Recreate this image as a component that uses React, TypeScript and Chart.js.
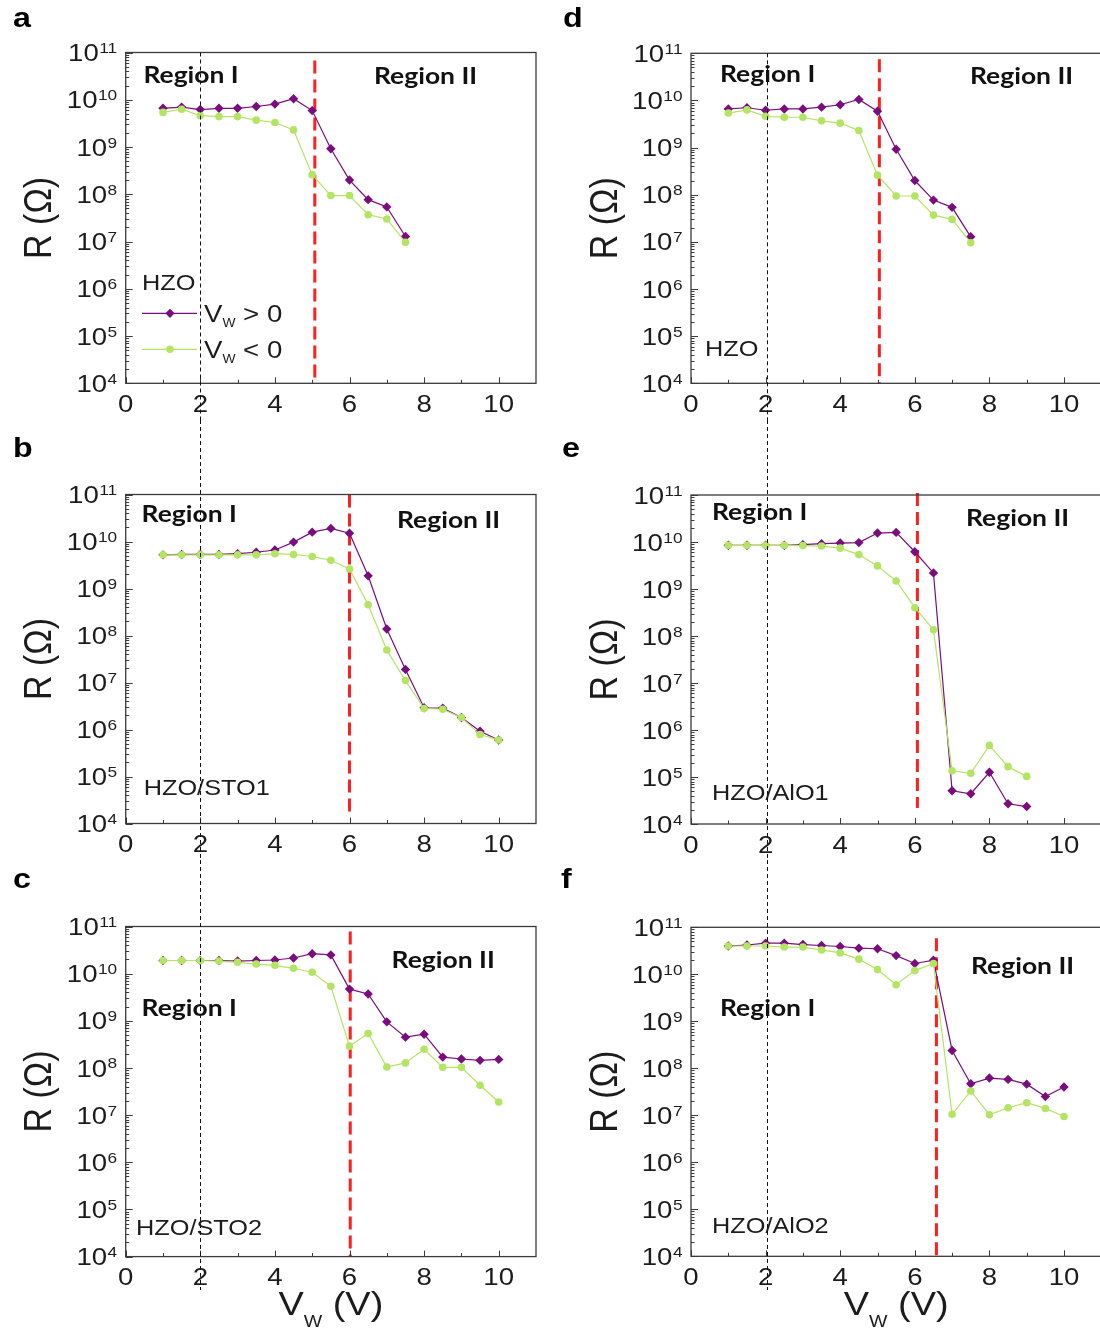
import React, { useEffect, useRef } from 'react';
import { Chart, registerables } from 'chart.js';

Chart.register(...registerables);

// ---------------- data ----------------
const vA = [1, 1.5, 2, 2.5, 3, 3.5, 4, 4.5, 5, 5.5, 6, 6.5, 7, 7.5];
const rHZOPos = [6.6e9, 7.0e9, 6.2e9, 6.6e9, 6.6e9, 7.2e9, 8.1e9, 1.05e10, 5.9e9, 9.2e8, 2.0e8, 7.7e7, 5.4e7, 1.28e7];
const rHZONeg = [5.4e9, 6.3e9, 4.6e9, 4.4e9, 4.4e9, 3.7e9, 3.3e9, 2.3e9, 2.6e8, 9.4e7, 9.4e7, 3.7e7, 3.0e7, 9.6e6];

const vB = [1, 1.5, 2, 2.5, 3, 3.5, 4, 4.5, 5, 5.5, 6, 6.5, 7, 7.5, 8, 8.5, 9, 9.5, 10];
const rSTO1Pos = [5.2e9, 5.3e9, 5.3e9, 5.3e9, 5.5e9, 5.9e9, 6.6e9, 9.7e9, 1.58e10, 1.9e10, 1.5e10, 1.86e9, 1.38e8, 1.9e7, 2.9e6, 2.85e6, 1.8e6, 9.2e5, 6.0e5];
const rSTO1Neg = [5.2e9, 5.2e9, 5.2e9, 5.2e9, 5.2e9, 5.2e9, 5.5e9, 5.3e9, 4.8e9, 4.0e9, 2.6e9, 4.5e8, 4.9e7, 1.1e7, 2.8e6, 2.7e6, 1.8e6, 7.8e5, 6.0e5];

const vE = [1, 1.5, 2, 2.5, 3, 3.5, 4, 4.5, 5, 5.5, 6, 6.5, 7, 7.5, 8, 8.5, 9];
const rAlO1Pos = [8.5e9, 8.5e9, 8.5e9, 8.5e9, 8.8e9, 9.2e9, 9.5e9, 9.7e9, 1.55e10, 1.6e10, 6.2e9, 2.2e9, 5.1e4, 4.4e4, 1.26e5, 2.7e4, 2.35e4];
const rAlO1Neg = [8.5e9, 8.5e9, 8.5e9, 8.5e9, 8.4e9, 8.2e9, 7.4e9, 5.4e9, 3.1e9, 1.48e9, 4.0e8, 1.36e8, 1.36e5, 1.2e5, 4.7e5, 1.66e5, 1.03e5];

const vC = [1, 1.5, 2, 2.5, 3, 3.5, 4, 4.5, 5, 5.5, 6, 6.5, 7, 7.5, 8, 8.5, 9, 9.5, 10];
const rSTO2Pos = [1.9e10, 1.9e10, 1.9e10, 1.9e10, 1.85e10, 1.9e10, 1.95e10, 2.15e10, 2.65e10, 2.5e10, 4.7e9, 3.7e9, 9.5e8, 4.5e8, 5.2e8, 1.7e8, 1.55e8, 1.45e8, 1.52e8];
const rSTO2Neg = [1.9e10, 1.9e10, 1.9e10, 1.85e10, 1.74e10, 1.6e10, 1.5e10, 1.3e10, 1.07e10, 5.4e9, 2.9e8, 5.4e8, 1.05e8, 1.28e8, 2.5e8, 1.03e8, 1.03e8, 4.3e7, 1.9e7];

const vF = [1, 1.5, 2, 2.5, 3, 3.5, 4, 4.5, 5, 5.5, 6, 6.5, 7, 7.5, 8, 8.5, 9, 9.5, 10];
const rAlO2Pos = [4.0e10, 4.2e10, 4.6e10, 4.6e10, 4.3e10, 4.1e10, 3.9e10, 3.6e10, 3.5e10, 2.5e10, 1.7e10, 2.0e10, 2.4e8, 4.7e7, 6.2e7, 5.8e7, 4.6e7, 2.5e7, 4.0e7];
const rAlO2Neg = [4.0e10, 4.0e10, 4.0e10, 3.8e10, 3.8e10, 3.3e10, 2.85e10, 2.1e10, 1.26e10, 6.0e9, 1.2e10, 1.7e10, 1.05e7, 3.3e7, 1.03e7, 1.45e7, 1.85e7, 1.4e7, 9.4e6];

const xMajorTicks = [0, 2, 4, 6, 8, 10];
const xMinorTicks = [1, 3, 5, 7, 9];
const yDecadeExps = [4, 5, 6, 7, 8, 9, 10, 11];
const yMinorMult = [2, 3, 4, 5, 6, 7, 8, 9];
const seriesLabels = ['V<sub>w</sub> > 0', 'V<sub>w</sub> < 0'];

// ---------------- styles ----------------
const PURPLE = '#7a0c7e';
const GREEN = '#b3e563';
const RED = '#ff1f1f';
const INK = '#1c1c1c';
const AXIS = '#3a3a3a';
const SX = 1.15;
const ARIAL = '"Liberation Sans", Arial, sans-serif';
const TICK_FONT = `24px ${ARIAL}`;
const EXP_FONT = `15px ${ARIAL}`;
const SAMPLE_FONT = `22px ${ARIAL}`;
const REGION_FONT = 'bold 23px Lato, "Open Sans", sans-serif';
const LETTER_FONT = `bold 28px ${ARIAL}`;

const COLS = [
  { left: 0, width: 550, axisL: 125.7, axisR: 536, dashV: 2 },
  { left: 550, width: 560, axisL: 691, axisR: 1101.3, dashV: 2.03 },
];
const ROWS = [
  { top: 0, height: 420 },
  { top: 420, height: 440 },
  { top: 860, height: 473 },
];

type Txt = { s: string; dx: number; dy: number };
type PanelCfg = {
  id: string;
  letter: string;
  letterPos: [number, number];
  col: number;
  row: number;
  areaT: number;
  areaB: number;
  v: number[];
  pos: number[];
  neg: number[];
  redV: number;
  redT: number;
  redB: number;
  sample: Txt;
  regions: Txt[];
  legend?: boolean;
  xTitle?: boolean;
};

const PANELS: PanelCfg[] = [
  {
    id: 'a', letter: 'a', letterPos: [13, 27], col: 0, row: 0, areaT: 52.5, areaB: 383.3,
    v: vA, pos: rHZOPos, neg: rHZONeg, redV: 5.07, redT: 8, redB: 0,
    sample: { s: 'HZO', dx: 16.3, dy: 237.5 },
    regions: [{ s: 'Region I', dx: 17.7, dy: 30.5 }, { s: 'Region II', dx: 248.3, dy: 31.5 }],
    legend: true,
  },
  {
    id: 'd', letter: 'd', letterPos: [13, 27], col: 1, row: 0, areaT: 53.3, areaB: 383.3,
    v: vA, pos: rHZOPos, neg: rHZONeg, redV: 5.05, redT: 6, redB: 0,
    sample: { s: 'HZO', dx: 14, dy: 303 },
    regions: [{ s: 'Region I', dx: 29, dy: 28.7 }, { s: 'Region II', dx: 279, dy: 31 }],
  },
  {
    id: 'b', letter: 'b', letterPos: [13, 37], col: 0, row: 1, areaT: 494.5, areaB: 823.5,
    v: vB, pos: rSTO1Pos, neg: rSTO1Neg, redV: 6.0, redT: 0, redB: 12,
    sample: { s: 'HZO/STO1', dx: 18, dy: 300.5 },
    regions: [{ s: 'Region I', dx: 15.9, dy: 27.2 }, { s: 'Region II', dx: 271.3, dy: 33.8 }],
  },
  {
    id: 'e', letter: 'e', letterPos: [12, 37], col: 1, row: 1, areaT: 495, areaB: 824,
    v: vE, pos: rAlO1Pos, neg: rAlO1Neg, redV: 6.07, redT: -2, redB: 16,
    sample: { s: 'HZO/AlO1', dx: 21, dy: 305 },
    regions: [{ s: 'Region I', dx: 21, dy: 25 }, { s: 'Region II', dx: 275, dy: 31 }],
  },
  {
    id: 'c', letter: 'c', letterPos: [13, 28], col: 0, row: 2, areaT: 926.5, areaB: 1256.6,
    v: vC, pos: rSTO2Pos, neg: rSTO2Neg, redV: 6.02, redT: 5, redB: 0,
    sample: { s: 'HZO/STO2', dx: 10.3, dy: 308.5 },
    regions: [{ s: 'Region II', dx: 265.9, dy: 41.8 }, { s: 'Region I', dx: 15.9, dy: 89.5 }],
    xTitle: true,
  },
  {
    id: 'f', letter: 'f', letterPos: [11, 28], col: 1, row: 2, areaT: 927.3, areaB: 1256.3,
    v: vF, pos: rAlO2Pos, neg: rAlO2Neg, redV: 6.58, redT: 11, redB: 0,
    sample: { s: 'HZO/AlO2', dx: 21, dy: 306 },
    regions: [{ s: 'Region II', dx: 280, dy: 46.3 }, { s: 'Region I', dx: 29, dy: 89 }],
    xTitle: true,
  },
];

// ---------------- helpers ----------------
function txt(ctx: CanvasRenderingContext2D, s: string, x: number, y: number, font: string, align: CanvasTextAlign = 'left', color = INK) {
  ctx.save();
  ctx.font = font;
  ctx.fillStyle = color;
  ctx.textAlign = align;
  ctx.textBaseline = 'alphabetic';
  ctx.translate(x, y);
  ctx.scale(SX, 1);
  ctx.fillText(s, 0, 0);
  ctx.restore();
}
function tw(ctx: CanvasRenderingContext2D, s: string, font: string) {
  ctx.save();
  ctx.font = font;
  const w = ctx.measureText(s).width * SX;
  ctx.restore();
  return w;
}
// draws text with one subscript part: "V<sub>w</sub> > 0"
function richText(ctx: CanvasRenderingContext2D, s: string, x: number, y: number, size: number, subShift: number) {
  const m = s.match(/^(.*)<sub>(.*)<\/sub>(.*)$/);
  const parts = m ? [m[1], m[2], m[3]] : [s, '', ''];
  const main = `${size}px ${ARIAL}`;
  const sub = `${Math.round(size * 0.52)}px ${ARIAL}`;
  let cx = x;
  txt(ctx, parts[0], cx, y, main);
  cx += tw(ctx, parts[0], main);
  txt(ctx, parts[1].toUpperCase(), cx, y + subShift, sub);
  cx += tw(ctx, parts[1].toUpperCase(), sub);
  txt(ctx, parts[2], cx, y, main);
}
function richWidth(ctx: CanvasRenderingContext2D, s: string, size: number) {
  const m = s.match(/^(.*)<sub>(.*)<\/sub>(.*)$/);
  const parts = m ? [m[1], m[2], m[3]] : [s, '', ''];
  return tw(ctx, parts[0], `${size}px ${ARIAL}`) + tw(ctx, parts[1].toUpperCase(), `${Math.round(size * 0.52)}px ${ARIAL}`) + tw(ctx, parts[2], `${size}px ${ARIAL}`);
}

function makeOverlay(p: PanelCfg) {
  const col = COLS[p.col];
  const row = ROWS[p.row];
  return {
    id: 'overlay_' + p.id,
    beforeDatasetsDraw(chart: any) {
      const { ctx, chartArea: a, scales } = chart;
      const rx = scales.x.getPixelForValue(p.redV);
      ctx.save();
      ctx.strokeStyle = RED;
      ctx.lineWidth = 3;
      ctx.setLineDash([13, 6]);
      ctx.beginPath();
      ctx.moveTo(rx, a.top + p.redT);
      ctx.lineTo(rx, a.bottom - p.redB);
      ctx.stroke();
      ctx.restore();
    },
    afterDraw(chart: any) {
      const { ctx, chartArea: a, scales } = chart;
      const xs = scales.x;
      const ys = scales.y;
      ctx.save();
      // box
      ctx.strokeStyle = AXIS;
      ctx.lineWidth = 1.3;
      ctx.strokeRect(a.left, a.top, a.right - a.left, a.bottom - a.top);
      // inward ticks
      ctx.lineWidth = 1;
      ctx.beginPath();
      for (const v of xMajorTicks) {
        const px = Math.round(xs.getPixelForValue(v)) + 0.5;
        ctx.moveTo(px, a.bottom);
        ctx.lineTo(px, a.bottom - 6);
      }
      for (const v of xMinorTicks) {
        const px = Math.round(xs.getPixelForValue(v)) + 0.5;
        ctx.moveTo(px, a.bottom);
        ctx.lineTo(px, a.bottom - 3.5);
      }
      for (const e of yDecadeExps) {
        const py = Math.round(ys.getPixelForValue(Math.pow(10, e))) + 0.5;
        ctx.moveTo(a.left, py);
        ctx.lineTo(a.left + 7, py);
        if (e < 11) {
          for (const m of yMinorMult) {
            const qy = Math.round(ys.getPixelForValue(m * Math.pow(10, e))) + 0.5;
            ctx.moveTo(a.left, qy);
            ctx.lineTo(a.left + 3.5, qy);
          }
        }
      }
      ctx.stroke();
      ctx.restore();

      // x tick labels
      for (const v of xMajorTicks) {
        txt(ctx, String(v), xs.getPixelForValue(v), a.bottom + 28.5, TICK_FONT, 'center');
      }
      // y tick labels 10^n
      for (const e of yDecadeExps) {
        const py = ys.getPixelForValue(Math.pow(10, e));
        const right = a.left - 8.5;
        const ew = tw(ctx, String(e), EXP_FONT);
        txt(ctx, String(e), right, py + 0.5, EXP_FONT, 'right');
        txt(ctx, '10', right - ew - 0.5, py + 8.6, TICK_FONT, 'right');
      }
      // y title
      ctx.save();
      ctx.translate(a.left - 85, (a.top + a.bottom) / 2);
      ctx.rotate(-Math.PI / 2);
      ctx.scale(1, SX);
      ctx.font = `34px ${ARIAL}`;
      ctx.fillStyle = INK;
      ctx.textAlign = 'center';
      ctx.textBaseline = 'middle';
      ctx.fillText('R (\u03A9)', 0, 0);
      ctx.restore();
      // x title
      if (p.xTitle) {
        const t = 'V<sub>w</sub> (V)';
        const w = richWidth(ctx, t, 33);
        richText(ctx, t, (a.left + a.right) / 2 - w / 2, a.bottom + 58.5, 33, 12);
      }
      // region labels
      for (const r of p.regions) {
        txt(ctx, r.s, a.left + r.dx, a.top + r.dy, REGION_FONT, 'left', '#111');
      }
      // sample label
      txt(ctx, p.sample.s, a.left + p.sample.dx, a.top + p.sample.dy, SAMPLE_FONT);
      // legend
      if (p.legend) {
        const items = [
          { color: PURPLE, shape: 'diamond', dy: 260.8, label: seriesLabels[0] },
          { color: GREEN, shape: 'circle', dy: 296.8, label: seriesLabels[1] },
        ];
        for (const it of items) {
          const ly = a.top + it.dy;
          const x0 = a.left + 16.3;
          ctx.save();
          ctx.strokeStyle = it.color;
          ctx.fillStyle = it.color;
          ctx.lineWidth = 1.3;
          ctx.beginPath();
          ctx.moveTo(x0, ly);
          ctx.lineTo(x0 + 55, ly);
          ctx.stroke();
          const mx = x0 + 28;
          ctx.beginPath();
          if (it.shape === 'diamond') {
            ctx.moveTo(mx - 4.6, ly);
            ctx.lineTo(mx, ly - 4.6);
            ctx.lineTo(mx + 4.6, ly);
            ctx.lineTo(mx, ly + 4.6);
            ctx.closePath();
          } else {
            ctx.arc(mx, ly, 3.8, 0, Math.PI * 2);
          }
          ctx.fill();
          ctx.restore();
          richText(ctx, it.label, x0 + 62, ly + 8.3, 24, 5.5);
        }
      }
      // panel letter
      txt(ctx, p.letter, p.letterPos[0], p.letterPos[1], LETTER_FONT, 'left', '#000');
      // black dashed reference line at V = 2 (spans the whole column)
      const dx = Math.round(xs.getPixelForValue(col.dashV)) + 0.5;
      const yStart = p.row === 0 ? a.top : 0;
      const yEnd = p.row === 2 ? 1290 - row.top : row.height;
      ctx.save();
      ctx.strokeStyle = '#111';
      ctx.lineWidth = 1;
      ctx.setLineDash([4, 3]);
      ctx.beginPath();
      ctx.moveTo(dx, yStart);
      ctx.lineTo(dx, yEnd);
      ctx.stroke();
      ctx.restore();
    },
  };
}

function Panel({ p }: { p: PanelCfg }) {
  const ref = useRef<HTMLCanvasElement>(null);
  const col = COLS[p.col];
  const row = ROWS[p.row];
  useEffect(() => {
    if (!ref.current) return;
    const areaTop = p.areaT - row.top;
    const areaBottom = p.areaB - row.top;
    const xAxisH = 30;
    const chart = new Chart(ref.current, {
      type: 'line',
      data: {
        datasets: [
          {
            label: 'V_W < 0',
            data: p.v.map((v, i) => ({ x: v, y: p.neg[i] })),
            borderColor: GREEN,
            backgroundColor: GREEN,
            pointBackgroundColor: GREEN,
            pointBorderColor: GREEN,
            pointStyle: 'circle',
            pointRadius: 3.8,
            pointBorderWidth: 0,
            borderWidth: 1.2,
            tension: 0,
          },
          {
            label: 'V_W > 0',
            data: p.v.map((v, i) => ({ x: v, y: p.pos[i] })),
            borderColor: PURPLE,
            backgroundColor: PURPLE,
            pointBackgroundColor: PURPLE,
            pointBorderColor: PURPLE,
            pointStyle: 'rectRot',
            pointRadius: 4.7,
            pointBorderWidth: 0,
            borderWidth: 1.2,
            tension: 0,
          },
        ],
      },
      options: {
        animation: false,
        responsive: false,
        maintainAspectRatio: false,
        devicePixelRatio: 1,
        events: [],
        layout: {
          padding: {
            left: 0,
            right: col.width - (col.axisR - col.left),
            top: areaTop,
            bottom: row.height - areaBottom - xAxisH,
          },
        },
        plugins: {
          legend: { display: false },
          tooltip: { enabled: false },
          title: { display: false },
        },
        scales: {
          x: {
            type: 'linear',
            min: 0,
            max: 11,
            grid: { display: false },
            border: { display: false },
            ticks: { display: false },
            afterFit: (s: any) => { s.height = xAxisH; },
          },
          y: {
            type: 'logarithmic',
            min: 1e4,
            max: 1e11,
            grid: { display: false },
            border: { display: false },
            ticks: { display: false },
            afterFit: (s: any) => { s.width = col.axisL - col.left; },
          },
        },
      } as any,
      plugins: [makeOverlay(p)],
    });
    return () => chart.destroy();
  }, [p]);
  return (
    <canvas
      ref={ref}
      width={col.width}
      height={row.height}
      style={{ position: 'absolute', left: col.left, top: row.top, width: col.width, height: row.height }}
    />
  );
}

export default function App() {
  return (
    <div style={{ position: 'absolute', left: 0, top: 0, width: 1100, height: 1333, overflow: 'hidden', background: '#fff' }}>
      {PANELS.map((p) => (
        <Panel key={p.id} p={p} />
      ))}
    </div>
  );
}
